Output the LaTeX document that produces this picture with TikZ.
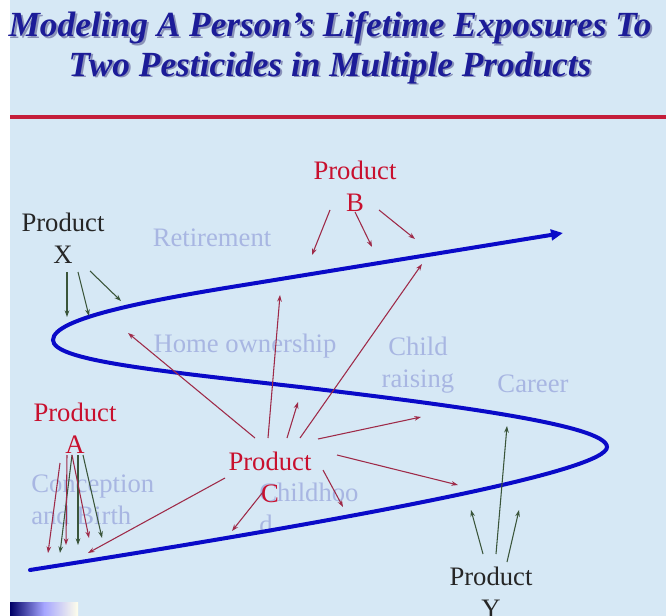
\documentclass[tikz,border=0pt]{standalone}
\usepackage{fontspec}
\setmainfont{Liberation Serif}
\usetikzlibrary{arrows.meta}
\definecolor{bgblue}{HTML}{D6E8F5}
\definecolor{titleblue}{HTML}{1C1C98}
\definecolor{shadowc}{HTML}{8A92B8}
\definecolor{rulered}{HTML}{C41E3A}
\definecolor{prodred}{HTML}{C8102E}
\definecolor{stagec}{HTML}{A8B6E2}
\definecolor{curveblue}{HTML}{0A0AC8}
\definecolor{arrred}{HTML}{9E2A48}
\definecolor{arrgreen}{HTML}{3A553A}
\tikzset{
  lbl/.style={font=\fontsize{20}{24}\selectfont, align=center, inner sep=0pt},
  prodr/.style={lbl, text=prodred},
  prodk/.style={lbl, text=black!85},
  stage/.style={lbl, text=stagec},
  ttl/.style={font=\fontsize{26.5}{30}\selectfont\bfseries\itshape, inner sep=0pt},
  ra/.style={draw=arrred, line width=0.8pt, -{Stealth[length=5pt,width=3.5pt]}},
  ga/.style={draw=arrgreen, line width=0.8pt, -{Stealth[length=5pt,width=3.5pt]}},
  life/.style={draw=curveblue, line width=3pt, line cap=round, -{Triangle[length=9pt,width=8pt]}}
}
\begin{document}
\begin{tikzpicture}[x=0.75pt,y=-0.75pt]
\useasboundingbox (0,0) rectangle (666,616);
\fill[bgblue] (0,0) rectangle (666,616);
\fill[white] (0,0) rectangle (10,616);
\shade[left color=blue!40!black, right color=yellow!8!white, middle color=blue!35!white] (10,602) rectangle (78,616);
% title
\node[ttl, text=shadowc] at (332,29.5) {Modeling A Person’s Lifetime Exposures To};
\node[ttl, text=shadowc] at (332,69.5) {Two Pesticides in Multiple Products};
\node[ttl, text=titleblue] (t1) at (330,28) {Modeling A Person’s Lifetime Exposures To};
\node[ttl, text=titleblue] (t2) at (330,68) {Two Pesticides in Multiple Products};
\fill[rulered] (10,115) rectangle (666,119);
% stage labels
\node[stage] (ret) at (212,238) {Retirement};
\node[stage] (home) at (245,346) {Home ownership};
\node[stage] (child) at (418,365) {Child\\raising};
\node[stage] (career) at (533,384) {Career};
\node[stage, align=left, anchor=west] (concep) at (31,500) {Conception\\and Birth};
\node[stage, align=left, anchor=west] (childh) at (259,508) {Childhoo\\d};
% life curve
\draw[life] (30,570) .. controls (380,515) and (607,470) .. (607,447)
  .. controls (607,425) and (450,405) .. (300,387)
  .. controls (150,370) and (53,360) .. (53,340)
  .. controls (53,318) and (150,300) .. (250,284) -- (563,233);
% product labels
\node[prodk] (PX) at (63,238) {Product\\X};
\node[prodr] (PB) at (355,186) {Product\\B};
\node[prodr] (PA) at (75,428) {Product\\A};
\node[prodr] (PC) at (270,477) {Product\\C};
\node[prodk] (PY) at (491,592) {Product\\Y};
% arrow end coordinates
\coordinate (x1s) at (67,272); \coordinate (x1e) at (67,317);
\coordinate (x2s) at (78,272); \coordinate (x2e) at (89,316);
\coordinate (x3s) at (90,271); \coordinate (x3e) at (121,301);
\coordinate (b1s) at (330,210); \coordinate (b1e) at (312,255);
\coordinate (b2s) at (355,212); \coordinate (b2e) at (372,247);
\coordinate (b3s) at (379,210); \coordinate (b3e) at (415,239);
\coordinate (a1s) at (60,463); \coordinate (a1e) at (48,553);
\coordinate (a2s) at (72,455); \coordinate (a2e) at (60,553);
\coordinate (a3s) at (67,455); \coordinate (a3e) at (66,545);
\coordinate (a4s) at (78,455); \coordinate (a4e) at (78,545);
\coordinate (a5s) at (72,455); \coordinate (a5e) at (89,538);
\coordinate (a6s) at (83,455); \coordinate (a6e) at (102,538);
\coordinate (c1s) at (255,438); \coordinate (c1e) at (128,333);
\coordinate (c2s) at (268,438); \coordinate (c2e) at (280,295);
\coordinate (c3s) at (287,438); \coordinate (c3e) at (298,402);
\coordinate (c4s) at (300,438); \coordinate (c4e) at (422,264);
\coordinate (c5s) at (318,439); \coordinate (c5e) at (421,417);
\coordinate (c6s) at (337,455); \coordinate (c6e) at (458,485);
\coordinate (c7s) at (323,470); \coordinate (c7e) at (343,507);
\coordinate (c8s) at (263,492); \coordinate (c8e) at (232,531);
\coordinate (c9s) at (225,478); \coordinate (c9e) at (88,553);
\coordinate (y1s) at (483,554); \coordinate (y1e) at (471,510);
\coordinate (y2s) at (496,554); \coordinate (y2e) at (507,426);
\coordinate (y3s) at (507,562); \coordinate (y3e) at (519,510);
% arrows
\foreach \s in {x1,x2,x3,y1,y2,y3,a2,a4,a6} \draw[ga] (\s s) -- (\s e);
\foreach \s in {b1,b2,b3,a1,a3,a5,c1,c2,c3,c4,c5,c6,c7,c8,c9} \draw[ra] (\s s) -- (\s e);
\end{tikzpicture}
\end{document}
